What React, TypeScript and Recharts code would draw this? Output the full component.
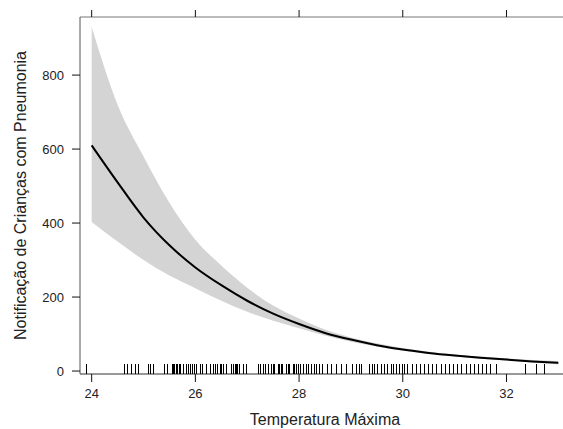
import React from "react";
import {
  ComposedChart,
  XAxis,
  YAxis,
  Area,
  Line,
  Scatter,
} from "recharts";

const temps = [24, 24.5, 25, 25.5, 26, 26.5, 27, 27.5, 28, 28.5, 29, 29.5, 30, 30.5, 31, 31.5, 32, 32.5, 33];
const meanValues = [610, 510, 415, 340, 280, 232, 190, 155, 127, 103, 85, 70, 58, 49, 42, 36, 31, 26, 22];
const upperValues = [930, 720, 580, 455, 355, 285, 225, 177, 142, 112, 91, 75, 62, 52, 45, 39, 34, 30, 27];
const lowerValues = [403, 350, 300, 258, 224, 190, 160, 136, 116, 96, 79, 66, 55, 46, 39, 33, 28, 23, 18];

const rugTemps = [
  23.9, 24.62, 24.69, 24.76, 24.83, 24.9, 25.09, 25.12, 25.18, 25.39, 25.45, 25.54, 25.57, 25.59,
  25.62, 25.65, 25.68, 25.71, 25.76, 25.81, 25.86, 25.89, 25.94, 25.97, 26.02, 26.08, 26.13,
  26.21, 26.28, 26.34, 26.38, 26.42, 26.47, 26.5, 26.53, 26.6, 26.69, 26.72, 26.76, 26.79,
  26.81, 26.85, 26.92, 26.98, 27.2, 27.24, 27.3, 27.35, 27.4, 27.46, 27.49, 27.52, 27.59,
  27.62, 27.65, 27.68, 27.75, 27.78, 27.81, 27.88, 27.91, 27.94, 27.97, 28.01, 28.07, 28.13,
  28.18, 28.23, 28.28, 28.33, 28.39, 28.45, 28.53, 28.62, 28.71, 28.81, 28.9, 29.03, 29.1,
  29.15, 29.19, 29.35, 29.4, 29.45, 29.51, 29.58, 29.64, 29.7, 29.77, 29.81, 29.87, 29.92,
  29.99, 30.03, 30.09, 30.17, 30.25, 30.33, 30.41, 30.49, 30.57, 30.65, 30.73, 30.81, 30.89,
  30.97, 31.05, 31.13, 31.21, 31.29, 31.37, 31.45, 31.53, 31.61, 31.69, 31.79, 32.35, 32.56,
  32.73,
];

const xTicks = [24, 26, 28, 30, 32];
const yTicks = [0, 200, 400, 600, 800];
const xDomain: [number, number] = [23.775, 33.225];
const yDomain: [number, number] = [-8, 957];

const curveData = temps.map((t, i) => ({
  t,
  mean: meanValues[i],
  band: [lowerValues[i], upperValues[i]],
}));
const rugData = rugTemps.map((t) => ({ t, r: yDomain[0] }));

const FONT = "'Liberation Sans', Arial, sans-serif";
const TEXT = "#222";

const RugMark = (props: any) => {
  const { cx, cy } = props;
  if (cx == null || cy == null) return <g />;
  const x = Math.round(cx) + 0.5;
  return (
    <line x1={x} x2={x} y1={cy} y2={cy - 10} stroke="#000" strokeWidth={1} shapeRendering="crispEdges" />
  );
};

export default function App() {
  return (
    <div
      style={{
        position: "absolute",
        left: 0,
        top: 0,
        width: 563,
        height: 429,
        overflow: "hidden",
        background: "#fff",
      }}
    >
      <ComposedChart
        width={580}
        height={429}
        data={curveData}
        margin={{ top: 16, right: 10, bottom: 0, left: 0 }}
        style={{ fontFamily: FONT }}
      >
        <XAxis
          xAxisId="bottom"
          dataKey="t"
          type="number"
          domain={xDomain}
          ticks={xTicks}
          allowDataOverflow
          height={55}
          tickSize={8}
          tickMargin={7}
          axisLine={{ stroke: "#333" }}
          tickLine={{ stroke: "#111" }}
          tick={{ fill: TEXT, fontSize: 13, fontFamily: FONT }}
          label={{
            content: (p: any) => {
              const vb = p.viewBox || {};
              return (
                <text
                  x={vb.x + vb.width / 2}
                  y={vb.y + 51}
                  textAnchor="middle"
                  fontSize={16}
                  fill={TEXT}
                  fontFamily={FONT}
                >
                  Temperatura Máxima
                </text>
              );
            },
          }}
        />
        <XAxis
          xAxisId="top"
          dataKey="t"
          type="number"
          orientation="top"
          domain={xDomain}
          ticks={xTicks}
          allowDataOverflow
          height={1}
          tickSize={7}
          tickFormatter={() => ""}
          axisLine={{ stroke: "#777" }}
          tickLine={{ stroke: "#111" }}
        />
        <YAxis
          type="number"
          domain={yDomain}
          ticks={yTicks}
          allowDataOverflow
          width={80}
          tickSize={8}
          tickMargin={8}
          axisLine={{ stroke: "#555" }}
          tickLine={{ stroke: "#111" }}
          tick={{ fill: TEXT, fontSize: 13, fontFamily: FONT }}
          label={{
            content: (p: any) => {
              const vb = p.viewBox || {};
              const cx = 20;
              const cy = vb.y + vb.height / 2;
              return (
                <text
                  x={cx}
                  y={cy}
                  textAnchor="middle"
                  dominantBaseline="central"
                  transform={`rotate(-90, ${cx}, ${cy})`}
                  fontSize={16}
                  fill={TEXT}
                  fontFamily={FONT}
                >
                  Notificação de Crianças com Pneumonia
                </text>
              );
            },
          }}
        />
        <Area
          xAxisId="bottom"
          dataKey="band"
          type="monotone"
          fill="#d4d4d4"
          fillOpacity={1}
          stroke="none"
          isAnimationActive={false}
          activeDot={false}
        />
        <Line
          xAxisId="bottom"
          dataKey="mean"
          type="monotone"
          stroke="#000"
          strokeWidth={2}
          dot={false}
          activeDot={false}
          isAnimationActive={false}
        />
        <Scatter
          xAxisId="bottom"
          data={rugData}
          dataKey="r"
          shape={RugMark}
          isAnimationActive={false}
        />
      </ComposedChart>
    </div>
  );
}
